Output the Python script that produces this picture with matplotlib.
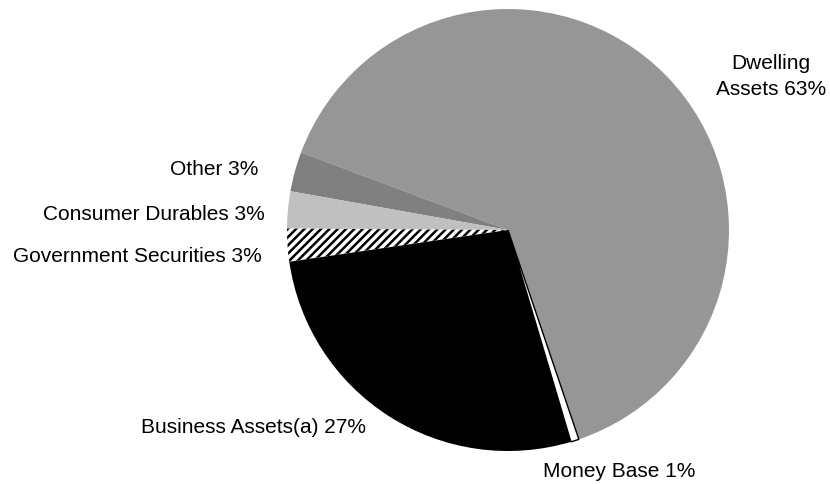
import matplotlib.pyplot as plt

plt.rcParams['font.family'] = ['Liberation Sans', 'DejaVu Sans']
plt.rcParams['hatch.linewidth'] = 1.8

# wedges, counterclockwise from the money base / dwelling boundary
names = ['Dwelling Assets', 'Other', 'Consumer Durables', 'Government Securities',
         'Business Assets(a)', 'Money Base']
shares = [64.1, 2.9, 2.7, 2.4, 27.3, 0.6]
colors = ['#969696', '#808080', '#c0c0c0', 'white', 'black', 'white']
label_pct = [63, 3, 3, 3, 27, 1]

fig = plt.figure(figsize=(8.3, 4.85), dpi=100)
ax = fig.add_axes([0, 0, 1, 1])

wedges, _ = ax.pie(shares, colors=colors, startangle=-71.3, counterclock=True,
                   center=(508, 254), radius=221, frame=True,
                   wedgeprops=dict(linewidth=0, edgecolor='none'))
ax.set_xlim(0, 830)
ax.set_ylim(0, 485)
ax.axis('off')

# hatched government securities slice
wedges[3].set_hatch('////')
wedges[3].set_edgecolor('black')
wedges[3].set_linewidth(0)
# outlined money base slice
wedges[5].set_edgecolor('black')
wedges[5].set_linewidth(1.0)

fs = 15
ax.text(771, 485 - 69, 'Dwelling', ha='center', va='baseline', fontsize=fs)
ax.text(771, 485 - 95, 'Assets %d%%' % label_pct[0], ha='center', va='baseline', fontsize=fs)
ax.text(258, 485 - 175, 'Other %d%%' % label_pct[1], ha='right', va='baseline', fontsize=fs)
ax.text(265, 485 - 220, 'Consumer Durables %d%%' % label_pct[2], ha='right', va='baseline', fontsize=fs)
ax.text(262, 485 - 262, 'Government Securities %d%%' % label_pct[3], ha='right', va='baseline', fontsize=fs)
ax.text(366, 485 - 433, 'Business Assets(a) %d%%' % label_pct[4], ha='right', va='baseline', fontsize=fs)
ax.text(543, 485 - 477, 'Money Base %d%%' % label_pct[5], ha='left', va='baseline', fontsize=fs)

fig.savefig('out.png', dpi=100)
